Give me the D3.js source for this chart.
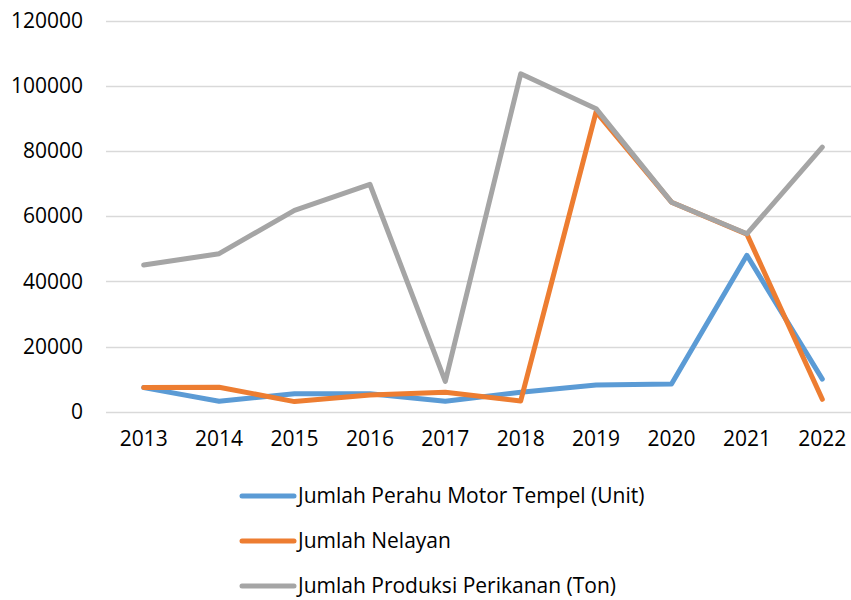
<!DOCTYPE html>
<html>
<head>
<meta charset="utf-8">
<script src="https://cdn.jsdelivr.net/npm/d3@7"></script>
<style>
    body { margin: 0; background: #fff; }
    svg { display: block; font-family: "Open Sans", sans-serif; }
</style>
</head>
<body>
<div id="chart"></div>
<script>
/* ============================================================
   LINE CHART — perahu, nelayan, produksi perikanan 2013-2022
   ============================================================ */
var years = ['2013', '2014', '2015', '2016', '2017', '2018', '2019', '2020', '2021', '2022'];
var yTicks = [0, 20000, 40000, 60000, 80000, 100000, 120000];

var perahu   = [7400, 3200, 5500, 5500, 3200, 6000, 8200, 8500, 48000, 10000];
var nelayan  = [7400, 7500, 3100, 5100, 6000, 3300, 92000, 64300, 54500, 3800];
var produksi = [45000, 48500, 61800, 69800, 9300, 103700, 93000, 64300, 54600, 81200];

var seriesNames  = ['Jumlah Perahu Motor Tempel (Unit)', 'Jumlah Nelayan', 'Jumlah Produksi Perikanan (Ton)'];
var seriesValues = [perahu, nelayan, produksi];
var seriesColors = ['#5B9BD5', '#ED7D31', '#A5A5A5'];

var W = 851, H = 600;
var M = {top: 21, right: -9, bottom: 188, left: 106};

var svg = d3.select('#chart').append('svg')
    .attr('width', W)
    .attr('height', H);

var x = d3.scaleBand()
    .domain(years)
    .range([M.left, W - M.right]);

var y = d3.scaleLinear()
    .domain([0, 120000])
    .range([H - M.bottom - 0.3, M.top - 0.3]);

// Grid
svg.append('g')
    .selectAll('line')
    .data(yTicks)
    .enter().append('line')
    .attr('x1', M.left)
    .attr('x2', W)
    .attr('y1', function(d) { return Math.round(y(d)) + 0.5; })
    .attr('y2', function(d) { return Math.round(y(d)) + 0.5; })
    .attr('stroke', '#D9D9D9')
    .attr('stroke-width', 1.5);

// Y axis labels
var yAxis = svg.append('g')
    .attr('transform', 'translate(' + (M.left - 23) + ',0)')
    .call(d3.axisLeft(y).tickValues(yTicks).tickSize(0).tickPadding(0).tickFormat(d3.format('d')));
yAxis.select('.domain').remove();
yAxis.selectAll('text')
    .style('font-family', '"Open Sans", sans-serif')
    .style('font-size', '21px')
    .attr('fill', '#000');

// X axis labels
var xAxis = svg.append('g')
    .attr('transform', 'translate(0,' + (H - M.bottom + 19) + ')')
    .call(d3.axisBottom(x).tickSize(0).tickPadding(0));
xAxis.select('.domain').remove();
xAxis.selectAll('text')
    .style('font-family', '"Open Sans", sans-serif')
    .style('font-size', '21px')
    .attr('fill', '#000');

// Lines
var line = d3.line()
    .x(function(d, i) { return x(years[i]) + x.bandwidth() / 2; })
    .y(function(d) { return y(d); });

seriesValues.forEach(function(vals, i) {
    svg.append('path')
        .datum(vals)
        .attr('fill', 'none')
        .attr('stroke', seriesColors[i])
        .attr('stroke-width', 5)
        .attr('stroke-linejoin', 'round')
        .attr('stroke-linecap', 'round')
        .attr('d', line);
});

// Legend
var legend = svg.append('g');
seriesNames.forEach(function(name, i) {
    var ly = 496 + i * 45;
    legend.append('line')
        .attr('x1', 242).attr('x2', 294)
        .attr('y1', ly).attr('y2', ly)
        .attr('stroke', seriesColors[i])
        .attr('stroke-width', 5)
        .attr('stroke-linecap', 'round');
    legend.append('text')
        .attr('x', 298)
        .attr('y', ly)
        .attr('dy', '0.35em')
        .attr('font-size', '21px')
        .attr('fill', '#000')
        .text(name);
});
</script>
</body>
</html>
